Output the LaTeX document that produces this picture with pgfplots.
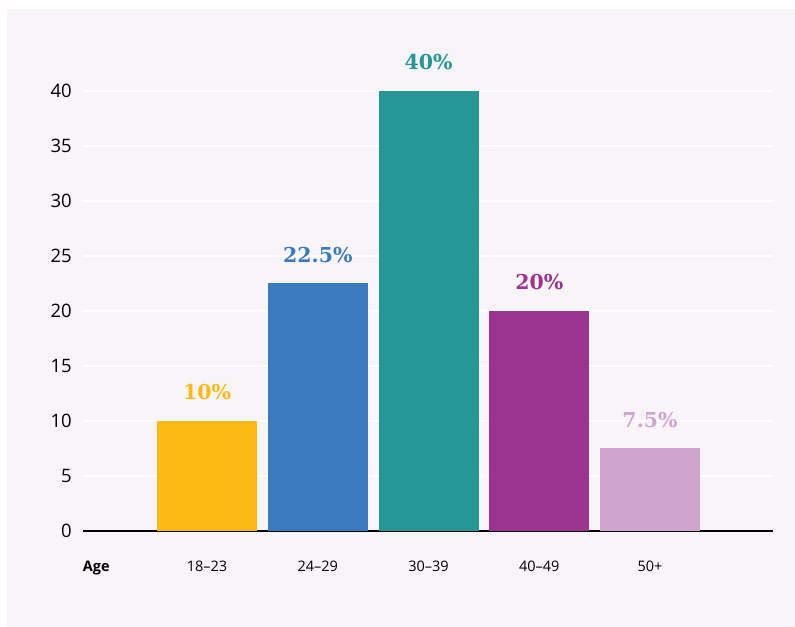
\documentclass[border=0pt]{standalone}
\usepackage{pgfplots}
\pgfplotsset{compat=1.18}
\usepackage{fontspec}
\setmainfont{Open Sans}
\newfontfamily\labfont{DejaVu Serif}
\definecolor{bgc}{HTML}{F8F4F8}
\definecolor{cyel}{HTML}{FDB913}
\definecolor{cblu}{HTML}{3A7BBF}
\definecolor{cteal}{HTML}{259797}
\definecolor{cpur}{HTML}{9B3490}
\definecolor{clil}{HTML}{CFA5CE}
\begin{document}
\begin{tikzpicture}
\fill[white] (0,0) rectangle (795bp,627bp);
\fill[bgc] (7bp,0) rectangle (795bp,618bp);
\begin{axis}[
  at={(83bp,96bp)}, anchor=south west,
  scale only axis, width=690bp, height=440bp,
  xmin=-0.12, xmax=6.11, ymin=0, ymax=40,
  axis lines*=left,
  x axis line style={black, line width=2.5bp},
  y axis line style={draw=none},
  major tick length=0pt,
  xtick={0,1,2,3,4,5},
  xticklabels={\textbf{Age},18\textendash23,24\textendash29,30\textendash39,40\textendash49,50+},
  ytick={0,5,...,40},
  ymajorgrids, grid style={white, line width=2bp},
  /pgf/number format/assume math mode=true,
  yticklabel style={font=\fontsize{18.5bp}{20bp}\selectfont, inner sep=0pt, xshift=-11bp},
  xticklabel style={font=\fontsize{14.5bp}{16bp}\selectfont, inner sep=0pt, yshift=-30bp},
  ybar, bar width=100bp, bar shift=0pt,
  clip=false,
  nodes near coords,
  point meta=explicit symbolic,
  every node near coord/.append style={anchor=base, inner sep=0pt, yshift=21bp, font=\labfont\bfseries\fontsize{20.5bp}{22bp}\selectfont},
]
\addplot[draw=none, fill=cyel, text=cyel] coordinates {(1,10) [10\%]};
\addplot[draw=none, fill=cblu, text=cblu] coordinates {(2,22.5) [22.5\%]};
\addplot[draw=none, fill=cteal, text=cteal] coordinates {(3,40) [40\%]};
\addplot[draw=none, fill=cpur, text=cpur] coordinates {(4,20) [20\%]};
\addplot[draw=none, fill=clil, text=clil] coordinates {(5,7.5) [7.5\%]};
\end{axis}
\end{tikzpicture}
\end{document}
